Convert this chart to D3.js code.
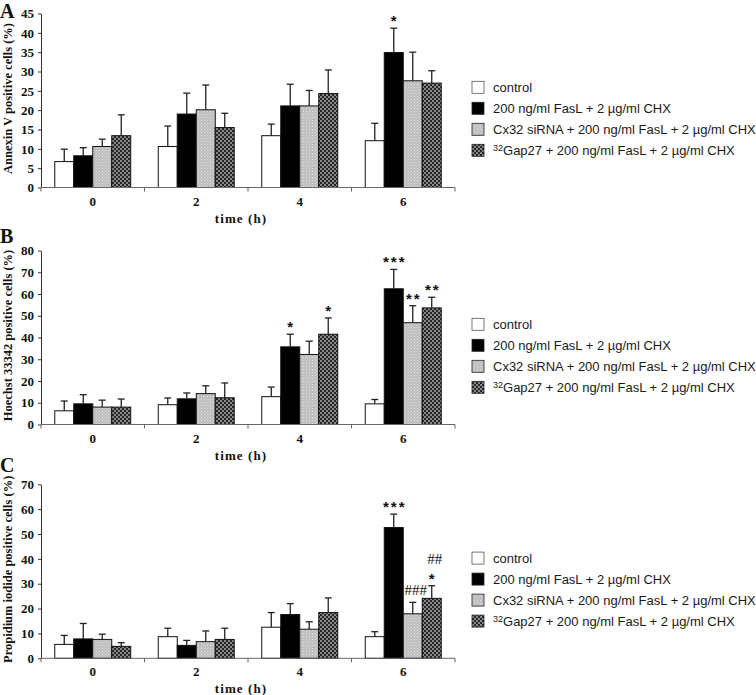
<!DOCTYPE html>
<html><head><meta charset="utf-8">
<script src="https://cdn.jsdelivr.net/npm/d3@7"></script>
<style>body{margin:0;background:#fff} svg{display:block}</style>
</head><body><svg id="chart" width="756" height="695"></svg>
<script>
// ---------- data ----------
const categories = ["0", "2", "4", "6"];
const seriesLabels = ["control", "200 ng/ml FasL + 2 µg/ml CHX", "Cx32 siRNA + 200 ng/ml FasL + 2 µg/ml CHX", "Gap27 + 200 ng/ml FasL + 2 µg/ml CHX"];
const seriesSuperscripts = ["", "", "", "32"];
const panelLetters = ["A", "B", "C"];
const yAxisTitles = ["Annexin V positive cells (%)", "Hoechst 33342 positive cells (%)", "Propidium iodide positive cells (%)"];
const xAxisTitle = "time (h)";
const yMaxima = [45, 80, 70];
const yTickSteps = [5, 10, 10];

// values: one row per series (control, FasL, Cx32 siRNA, Gap27), one column per time point
const annexinValues = [
  [6.7, 10.6, 13.4, 12.1],
  [8.2, 19.0, 21.1, 34.9],
  [10.6, 20.1, 21.1, 27.6],
  [13.4, 15.5, 24.3, 27.0]
];
const annexinErrors = [
  [3.2, 5.3, 3.0, 4.5],
  [2.1, 5.4, 5.6, 6.3],
  [1.9, 6.4, 4.0, 7.4],
  [5.4, 3.7, 6.1, 3.2]
];
const hoechstValues = [
  [6.3, 9.1, 12.8, 9.5],
  [9.5, 11.8, 35.7, 62.4],
  [8.0, 14.2, 32.2, 46.8],
  [8.0, 12.3, 41.5, 53.6]
];
const hoechstErrors = [
  [4.5, 3.1, 4.4, 2.0],
  [4.2, 2.7, 5.8, 8.9],
  [3.2, 3.6, 6.1, 7.8],
  [3.7, 6.8, 7.5, 4.9]
];
const propidiumValues = [
  [5.6, 8.7, 12.5, 8.7],
  [7.8, 5.2, 17.6, 52.6],
  [7.6, 6.7, 11.7, 17.9],
  [4.8, 7.6, 18.4, 24.1]
];
const propidiumErrors = [
  [3.6, 3.4, 5.9, 2.0],
  [6.2, 2.0, 4.4, 5.4],
  [2.1, 4.3, 3.0, 4.6],
  [1.5, 4.5, 5.9, 5.1]
];
// significance marks: category, series index, text, stacking level
const annexinMarks = [{cat: "6", series: 1, text: "*", level: 0}];
const hoechstMarks = [
  {cat: "4", series: 1, text: "*", level: 0},
  {cat: "4", series: 3, text: "*", level: 0},
  {cat: "6", series: 1, text: "***", level: 0},
  {cat: "6", series: 2, text: "**", level: 0},
  {cat: "6", series: 3, text: "**", level: 0}
];
const propidiumMarks = [
  {cat: "6", series: 1, text: "***", level: 0},
  {cat: "6", series: 2, text: "###", level: 0},
  {cat: "6", series: 3, text: "*", level: 0},
  {cat: "6", series: 3, text: "##", level: 1}
];

const panelValues = [annexinValues, hoechstValues, propidiumValues];
const panelErrors = [annexinErrors, hoechstErrors, propidiumErrors];
const panelMarks = [annexinMarks, hoechstMarks, propidiumMarks];

// ---------- layout ----------
const svg = d3.select("#chart");
const plotLeft = 41, plotRight = 455, plotH = 174;
const plotTops = [13.5, 250.5, 484.3];
const letterBaselines = [17.5, 243, 472];
const serif = "'Liberation Serif','Times New Roman',serif";
const sans = "'Liberation Sans',Arial,sans-serif";

const defs = svg.append("defs");
const pg = defs.append("pattern").attr("id", "pGray").attr("patternUnits", "userSpaceOnUse").attr("width", 3).attr("height", 3);
pg.append("rect").attr("width", 3).attr("height", 3).attr("fill", "#bdbdbd");
pg.append("rect").attr("x", 0).attr("y", 0).attr("width", 1).attr("height", 1).attr("fill", "#e2e2e2");
pg.append("rect").attr("x", 1.5).attr("y", 1.5).attr("width", 1).attr("height", 1).attr("fill", "#d4d4d4");
const pc = defs.append("pattern").attr("id", "pCheck").attr("patternUnits", "userSpaceOnUse").attr("width", 4).attr("height", 4);
pc.append("rect").attr("width", 4).attr("height", 4).attr("fill", "#262626");
pc.append("rect").attr("x", 0.3).attr("y", 0.3).attr("width", 1.4).attr("height", 1.4).attr("fill", "#eeeeee");
pc.append("rect").attr("x", 2.3).attr("y", 2.3).attr("width", 1.4).attr("height", 1.4).attr("fill", "#eeeeee");
const fills = ["#ffffff", "#000000", "url(#pGray)", "url(#pCheck)"];

panelLetters.forEach((letter, i) => {
  const g = svg.append("g");
  const top = plotTops[i];
  const y = d3.scaleLinear().domain([0, yMaxima[i]]).range([top + plotH, top]);
  const x0 = d3.scaleBand().domain(categories).range([plotLeft, plotRight]);
  const bw = x0.bandwidth();
  const x1 = d3.scaleBand().domain(d3.range(seriesLabels.length)).range([bw * 0.133, bw * 0.867]);
  const vals = panelValues[i], errs = panelErrors[i];

  const cells = [];
  vals.forEach((row, s) => row.forEach((v, c) => cells.push({s, c, v, e: errs[s][c]})));

  // bars
  g.selectAll("rect.bar").data(cells).join("rect").attr("class", "bar")
    .attr("x", d => x0(categories[d.c]) + x1(d.s))
    .attr("y", d => y(d.v))
    .attr("width", x1.bandwidth())
    .attr("height", d => y(0) - y(d.v))
    .attr("fill", d => fills[d.s])
    .attr("stroke", "#111").attr("stroke-width", 1);

  // error bars (upper only)
  const eg = g.append("g").attr("stroke", "#222").attr("stroke-width", 1.3);
  cells.forEach(d => {
    const cx = x0(categories[d.c]) + x1(d.s) + x1.bandwidth() / 2;
    eg.append("line").attr("x1", cx).attr("x2", cx).attr("y1", y(d.v)).attr("y2", y(d.v + d.e));
    eg.append("line").attr("x1", cx - 3.5).attr("x2", cx + 3.5).attr("y1", y(d.v + d.e)).attr("y2", y(d.v + d.e));
  });

  // significance marks
  panelMarks[i].forEach(m => {
    const c = categories.indexOf(m.cat);
    const cx = x0(m.cat) + x1(m.series) + x1.bandwidth() / 2;
    const capY = y(vals[m.series][c] + errs[m.series][c]);
    const isHash = m.text.includes("#");
    g.append("text")
      .attr("x", isHash ? cx + 3 : cx + 1)
      .attr("y", capY - (isHash ? 7 : 2) - m.level * 15)
      .attr("text-anchor", "middle")
      .attr("font-family", isHash ? serif : sans)
      .attr("font-weight", isHash ? "normal" : "bold")
      .attr("font-size", 15)
      .attr("letter-spacing", isHash ? 0 : 2)
      .attr("fill", "#111")
      .text(m.text);
  });

  // y axis
  const ya = g.append("g").attr("transform", `translate(${plotLeft},0)`)
    .call(d3.axisLeft(y).tickValues(d3.range(0, yMaxima[i] + 0.001, yTickSteps[i])).tickSize(3).tickSizeOuter(0).tickPadding(4));
  ya.selectAll("path,line").attr("stroke", "#333");
  ya.selectAll("text").attr("font-family", serif).attr("font-weight", "bold").attr("font-size", 13).attr("fill", "#111");

  // x axis
  const base = y(0);
  g.append("line").attr("x1", plotLeft).attr("x2", plotRight).attr("y1", base).attr("y2", base).attr("stroke", "#666").attr("stroke-width", 1);
  const bounds = categories.map(c => x0(c)).concat([x0.range()[1]]);
  g.selectAll("line.xt").data(bounds).join("line").attr("class", "xt")
    .attr("x1", d => d).attr("x2", d => d).attr("y1", base).attr("y2", base + 4).attr("stroke", "#666");
  g.selectAll("text.xl").data(categories).join("text").attr("class", "xl")
    .attr("x", c => x0(c) + bw / 2).attr("y", base + 18)
    .attr("text-anchor", "middle").attr("font-family", serif).attr("font-weight", "bold").attr("font-size", 13).attr("fill", "#111")
    .text(c => c);
  g.append("text").attr("x", (plotLeft + plotRight) / 2 - 7).attr("y", base + 35)
    .attr("text-anchor", "middle").attr("font-family", serif).attr("font-weight", "bold").attr("font-size", 13)
    .attr("letter-spacing", 1.1).attr("fill", "#111").text(xAxisTitle);

  // y title
  g.append("text").attr("transform", `translate(12,${top + plotH / 2 - 2}) rotate(-90)`)
    .attr("text-anchor", "middle").attr("font-family", serif).attr("font-weight", "bold").attr("font-size", 12.5).attr("fill", "#111")
    .text(yAxisTitles[i]);

  // panel letter
  g.append("text").attr("x", 0).attr("y", letterBaselines[i]).attr("font-family", serif).attr("font-weight", "bold")
    .attr("font-size", 20).attr("fill", "#111").text(letter);

  // legend
  const lg = g.append("g");
  seriesLabels.forEach((lab, s) => {
    const cy = top + 73.8 + s * 21;
    lg.append("rect").attr("x", 472).attr("y", cy - 6).attr("width", 12).attr("height", 12)
      .attr("fill", fills[s]).attr("stroke", s === 0 ? "#555" : "#222").attr("stroke-width", 0.8);
    const t = lg.append("text").attr("x", 493).attr("y", cy + 4.5).attr("font-family", sans).attr("font-size", 13).attr("fill", "#1a1a1a");
    if (seriesSuperscripts[s]) {
      t.append("tspan").attr("font-size", 9).attr("dy", -4).text(seriesSuperscripts[s]);
      t.append("tspan").attr("dy", 4).text(lab);
    } else {
      t.text(lab);
    }
  });
});
</script>
</body></html>
